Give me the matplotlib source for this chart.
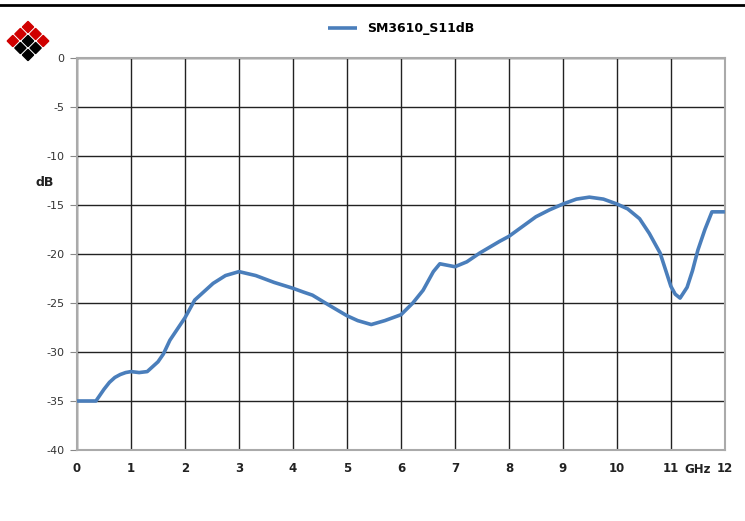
import matplotlib.pyplot as plt
from matplotlib.patches import Polygon
from matplotlib.lines import Line2D

plt.rcParams['axes.unicode_minus'] = False

# S11 curve
freq_ghz = [0, 0.35, 0.5, 0.6, 0.7, 0.8, 0.9, 1.0, 1.15, 1.3, 1.5, 1.6, 1.72, 2.0,
            2.18, 2.52, 2.75, 3.0, 3.31, 3.65, 4.0, 4.2, 4.36, 4.66, 5.0, 5.2, 5.45,
            5.7, 6.0, 6.22, 6.41, 6.6, 6.72, 7.0, 7.22, 7.46, 7.83, 8.0, 8.25, 8.5,
            8.75, 9.0, 9.25, 9.49, 9.75, 10.0, 10.2, 10.42, 10.6, 10.8, 11.0, 11.08,
            11.17, 11.3, 11.4, 11.5, 11.63, 11.76, 12.0]
s11_db = [-35, -35, -33.8, -33.1, -32.6, -32.3, -32.1, -32.0, -32.1, -32.0, -31.0,
          -30.2, -28.8, -26.5, -24.7, -23.0, -22.2, -21.8, -22.2, -22.9, -23.5,
          -23.9, -24.2, -25.2, -26.3, -26.8, -27.2, -26.8, -26.2, -25.0, -23.7,
          -21.8, -21.0, -21.3, -20.8, -19.9, -18.7, -18.2, -17.2, -16.2, -15.5,
          -14.9, -14.4, -14.2, -14.4, -14.9, -15.4, -16.4, -17.9, -19.9, -23.3,
          -24.1, -24.5, -23.4, -21.7, -19.6, -17.5, -15.7, -15.7]
series_name = 'SM3610_S11dB'
x_ticks = list(range(0, 13))
y_ticks = list(range(-40, 1, 5))

fig = plt.figure(figsize=(7.45, 5.21), dpi=100)
ax = fig.add_axes([0.1034, 0.1363, 0.8696, 0.7524])

ax.plot(freq_ghz, s11_db, color='#4a7ebb', linewidth=2.6, solid_joinstyle='round',
        solid_capstyle='butt', label=series_name, zorder=3)

ax.set_xlim(0, 12)
ax.set_ylim(-40, 0)
ax.set_xticks(x_ticks)
ax.set_yticks(y_ticks)
ax.grid(True, color='#222222', linewidth=1.0)
for s in ax.spines.values():
    s.set_color('#aaaaaa')
    s.set_linewidth(1.5)

ax.set_xticklabels([str(t) for t in x_ticks], fontweight='bold', fontsize=8.5, color='#222222')
ax.tick_params(axis='x', length=0, pad=9)
ax.tick_params(axis='y', length=5, color='#888888', labelsize=8, labelcolor='#333333', pad=4)

ax.text(11.49, -42.0, 'GHz', fontweight='bold', fontsize=8.5, color='#222222',
        ha='center', va='center')
ax.text(-0.42, -12.7, 'dB', fontweight='bold', fontsize=9, color='#222222',
        ha='right', va='center')

ax.legend(loc='lower center', bbox_to_anchor=(0.5, 1.03), frameon=False,
          prop={'weight': 'bold', 'size': 9}, handlelength=2.3)

# black rule at the top of the figure
fig.add_artist(Line2D([0, 1], [0.99, 0.99], color='black', linewidth=2, transform=fig.transFigure))

# logo: rotated 3x3 grid of small diamonds
half = 5.6
for i in range(3):
    for j in range(3):
        px = 28 + (j - i) * 7.6
        py = 27 + (i + j) * 7
        pts = [(px, py - half), (px + half, py), (px, py + half), (px - half, py)]
        pts = [(p[0] / 745, 1 - p[1] / 521) for p in pts]
        red = (i + j) < 2 or (i, j) in [(2, 0), (0, 2)]
        fig.add_artist(Polygon(pts, closed=True, color='#d00000' if red else 'black',
                               transform=fig.transFigure))

fig.savefig('out.png', dpi=100)
